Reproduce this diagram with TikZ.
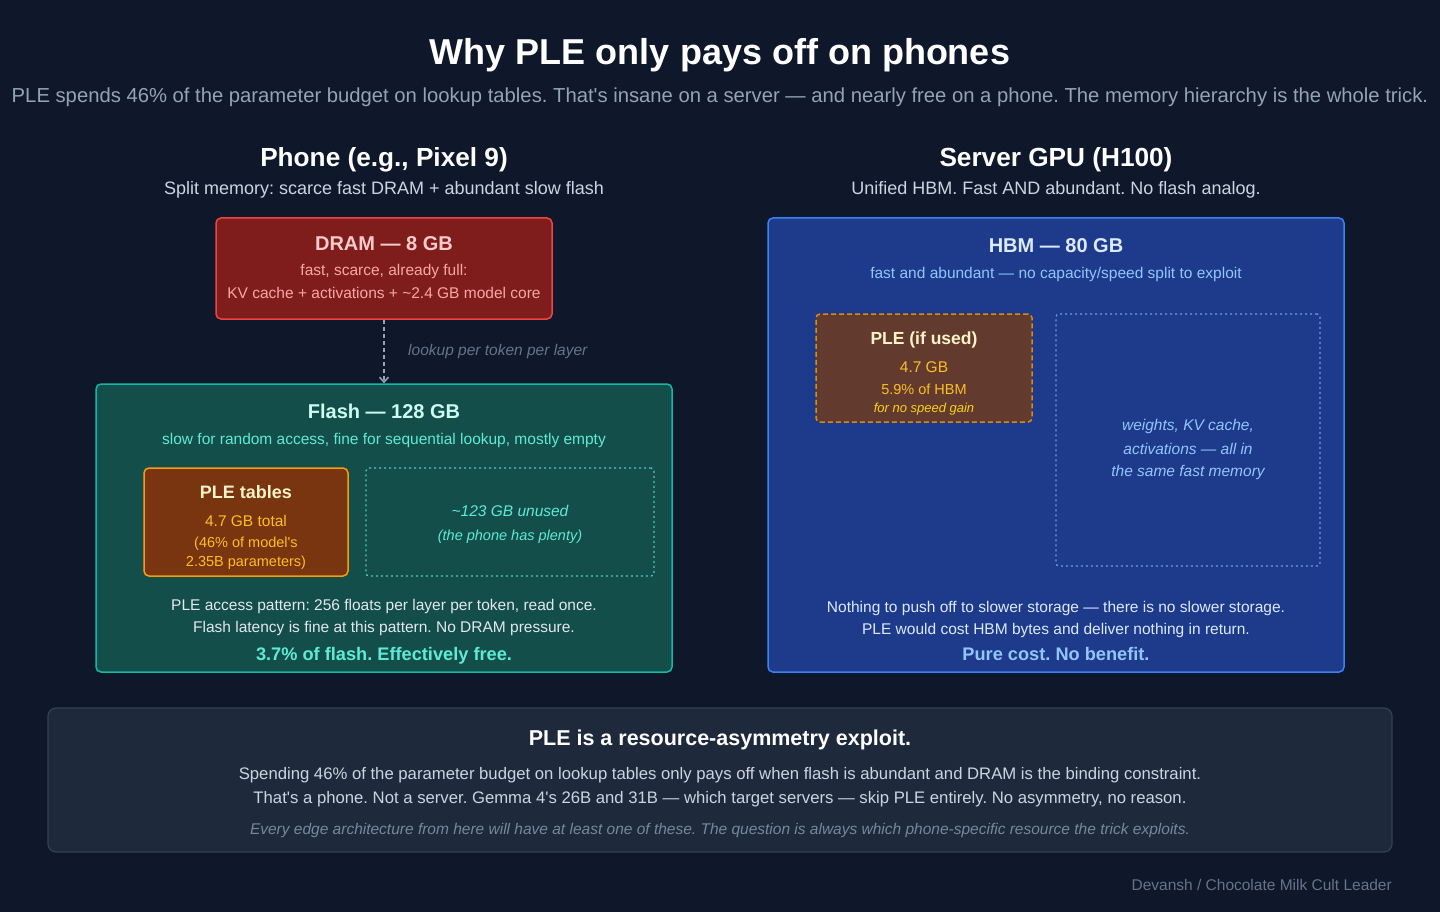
\documentclass[tikz,border=0pt]{standalone}
\usepackage{fontspec}
\setmainfont{Liberation Sans}
\frenchspacing
\usetikzlibrary{arrows.meta}
\definecolor{bg}{HTML}{0F172A}
\definecolor{dramfill}{HTML}{7F1D1D}
\definecolor{dramline}{HTML}{EF4444}
\definecolor{dramtitle}{HTML}{FECACA}
\definecolor{dramtext}{HTML}{FCA5A5}
\definecolor{flashfill}{HTML}{134E4A}
\definecolor{flashline}{HTML}{14B8A6}
\definecolor{flashtitle}{HTML}{CCFBF1}
\definecolor{flashtext}{HTML}{5EEAD4}
\definecolor{amberfill}{HTML}{78350F}
\definecolor{amberline}{HTML}{F59E0B}
\definecolor{ambertitle}{HTML}{FEF3C7}
\definecolor{ambertext}{HTML}{FBBF24}
\definecolor{brownfill}{HTML}{633A2E}
\definecolor{brownline}{HTML}{D48A1E}
\definecolor{hbmfill}{HTML}{1E3A8A}
\definecolor{hbmline}{HTML}{3B82F6}
\definecolor{hbmtitle}{HTML}{DBEAFE}
\definecolor{hbmtext}{HTML}{93C5FD}
\definecolor{notefill}{HTML}{1E293B}
\definecolor{noteline}{HTML}{334155}
\definecolor{slatetext}{HTML}{CBD5E1}
\definecolor{slatemid}{HTML}{94A3B8}
\definecolor{slatedim}{HTML}{64748B}
\definecolor{bodytext}{HTML}{E2E8F0}
\newcommand{\apos}{\textquotesingle}
\tikzset{
  fs/.style={font=\fontsize{#1}{#1}\selectfont},
  fsb/.style={font=\fontsize{#1}{#1}\selectfont\bfseries},
  fsi/.style={font=\fontsize{#1}{#1}\selectfont\itshape},
  txt/.style={anchor=base, inner sep=0pt, align=center},
  box/.style={draw, rounded corners=5pt, line width=1.5pt, inner sep=0pt},
}
\begin{document}
\begin{tikzpicture}[x=1pt,y=-1pt]
\fill[bg] (0,0) rectangle (1440,912);
\useasboundingbox (0,0) rectangle (1440,912);

% Title
\node[txt, fsb=36, text=white] (title) at (720,65) {Why PLE only pays off on phones};
\node[txt, fs=20.25, text=slatemid] (subtitle) at (720,103) {PLE spends 46\% of the parameter budget on lookup tables. That\apos s insane on a server — and nearly free on a phone. The memory hierarchy is the whole trick.};

% Phone column
\node[txt, fsb=26.2, text=white] (phonehead) at (384,166.5) {Phone (e.g., Pixel 9)};
\node[txt, fs=18, text=slatetext] (phonesub) at (384,194.5) {Split memory: scarce fast DRAM + abundant slow flash};

\node[box, draw=dramline, fill=dramfill, minimum width=336, minimum height=101] (dram) at (384,268.5) {};
\node[txt, fsb=20, text=dramtitle] (dramt) at (384,250) {DRAM — 8 GB};
\node[txt, fs=15.5, text=dramtext] (dram1) at (384,275.5) {fast, scarce, already full:};
\node[txt, fs=15.5, text=dramtext] (dram2) at (384,298.5) {KV cache + activations + \textasciitilde 2.4 GB model core};

\node[box, draw=flashline, fill=flashfill, minimum width=576, minimum height=288] (flash) at (384,528) {};
\node[txt, fsb=20, text=flashtitle] (flasht) at (384,418) {Flash — 128 GB};
\node[txt, fs=15.5, text=flashtext] (flash1) at (384,444.5) {slow for random access, fine for sequential lookup, mostly empty};

\draw[slatemid, line width=1.5pt, dash pattern=on 4pt off 3pt, -{Straight Barb[length=5pt,width=9pt,line width=1.5pt]}] (dram.south) -- (flash.north);
\node[txt, fsi=15.5, text=slatedim, anchor=base west] (lookup) at (408,355) {lookup per token per layer};

\node[box, draw=amberline, fill=amberfill, minimum width=204, minimum height=108] (pletab) at (246,522) {};
\node[txt, fsb=18, text=ambertitle] (pletabt) at (246,498.5) {PLE tables};
\node[txt, fs=15.5, text=ambertext] (pletab1) at (246,526.5) {4.7 GB total};
\node[txt, fs=14.5, text=ambertext] (pletab2) at (246,547) {(46\% of model\apos s};
\node[txt, fs=14.5, text=ambertext] (pletab3) at (246,566) {2.35B parameters)};

\node[draw=flashline!75, line width=1.3pt, dash pattern=on 2pt off 3pt, rounded corners=3pt, minimum width=288, minimum height=108, inner sep=0pt] (unused) at (510,522) {};
\node[txt, fsi=15.5, text=flashtext] (unused1) at (510,516.5) {\textasciitilde 123 GB unused};
\node[txt, fsi=14.5, text=flashtext] (unused2) at (510,540) {(the phone has plenty)};

\node[txt, fs=15.5, text=bodytext] (flash2) at (384,610.5) {PLE access pattern: 256 floats per layer per token, read once.};
\node[txt, fs=15.5, text=bodytext] (flash3) at (384,632.5) {Flash latency is fine at this pattern. No DRAM pressure.};
\node[txt, fsb=18.2, text=flashtext] (flash4) at (384,660.5) {3.7\% of flash. Effectively free.};

% Server column
\node[txt, fsb=26.2, text=white] (serverhead) at (1056,166.5) {Server GPU (H100)};
\node[txt, fs=18, text=slatetext] (serversub) at (1056,194.5) {Unified HBM. Fast AND abundant. No flash analog.};

\node[box, draw=hbmline, fill=hbmfill, minimum width=576, minimum height=454] (hbm) at (1056,445) {};
\node[txt, fsb=20, text=hbmtitle] (hbmt) at (1056,252) {HBM — 80 GB};
\node[txt, fs=15.5, text=hbmtext] (hbm1) at (1056,278.5) {fast and abundant — no capacity/speed split to exploit};

\node[draw=brownline, fill=brownfill, line width=1.5pt, dash pattern=on 5pt off 3pt, rounded corners=4pt, minimum width=216, minimum height=108, inner sep=0pt] (pleif) at (924,368) {};
\node[txt, fsb=17.5, text=ambertitle] (pleift) at (924,344) {PLE (if used)};
\node[txt, fs=15.5, text=ambertext] (pleif1) at (924,372.5) {4.7 GB};
\node[txt, fs=14.5, text=ambertext] (pleif2) at (924,394) {5.9\% of HBM};
\node[txt, fsi=13, text=ambertext!70!yellow] (pleif3) at (924,412.5) {for no speed gain};

\node[draw=hbmtext!70!hbmfill, line width=1.3pt, dash pattern=on 2pt off 3pt, rounded corners=3pt, minimum width=264, minimum height=252, inner sep=0pt] (same) at (1188,440) {};
\node[txt, fsi=15.5, text=hbmtext] (same1) at (1188,430.5) {weights, KV cache,};
\node[txt, fsi=15.5, text=hbmtext] (same2) at (1188,454.5) {activations — all in};
\node[txt, fsi=15.5, text=hbmtext] (same3) at (1188,476.5) {the same fast memory};

\node[txt, fs=15.5, text=hbmtitle] (hbm2) at (1056,612.5) {Nothing to push off to slower storage — there is no slower storage.};
\node[txt, fs=15.5, text=hbmtitle] (hbm3) at (1056,634.5) {PLE would cost HBM bytes and deliver nothing in return.};
\node[txt, fsb=18.2, text=hbmtext] (hbm4) at (1056,660.5) {Pure cost. No benefit.};

% Bottom note
\node[draw=noteline, fill=notefill, line width=1.2pt, rounded corners=8pt, minimum width=1344, minimum height=144, inner sep=0pt] (note) at (720,780) {};
\node[txt, fsb=21.5, text=white] (notet) at (720,745) {PLE is a resource-asymmetry exploit.};
\node[txt, fs=16.7, text=slatetext] (note1) at (720,779) {Spending 46\% of the parameter budget on lookup tables only pays off when flash is abundant and DRAM is the binding constraint.};
\node[txt, fs=16.7, text=slatetext] (note2) at (720,803) {That\apos s a phone. Not a server. Gemma 4\apos s 26B and 31B — which target servers — skip PLE entirely. No asymmetry, no reason.};
\node[txt, fsi=15.5, text=slatedim!60!slatemid] (note3) at (720,834) {Every edge architecture from here will have at least one of these. The question is always which phone-specific resource the trick exploits.};

\node[txt, fs=15.5, text=slatedim, anchor=base east] (credit) at (1392,890.5) {Devansh / Chocolate Milk Cult Leader};
\end{tikzpicture}
\end{document}
